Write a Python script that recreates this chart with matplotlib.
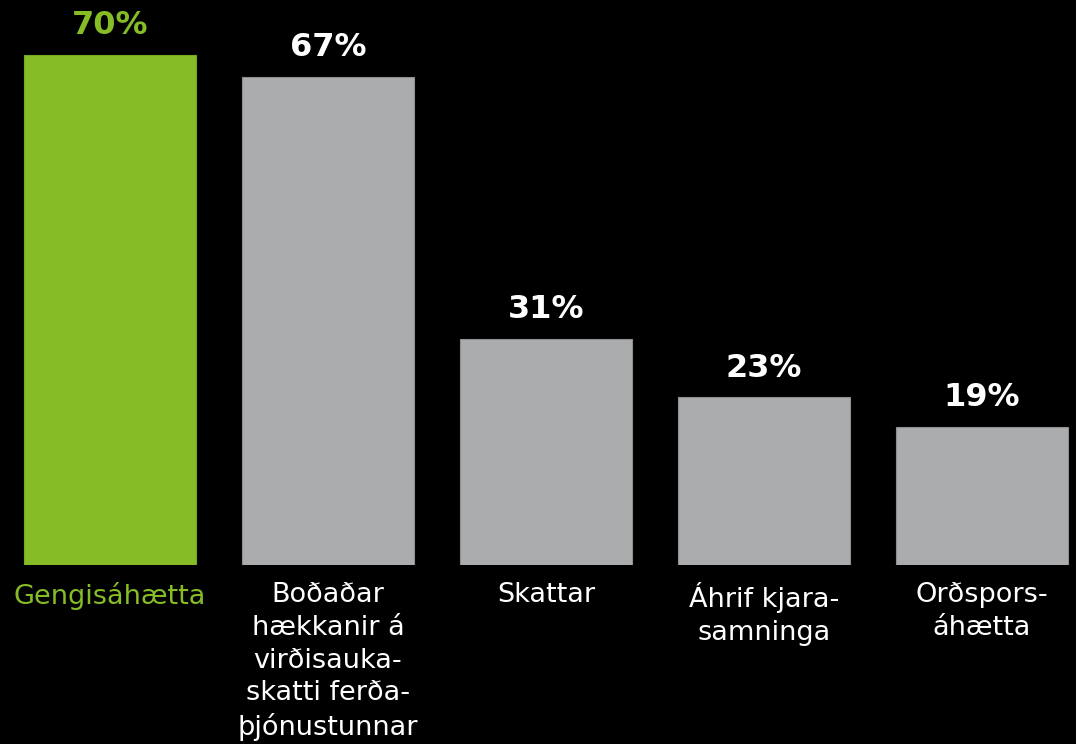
import matplotlib
matplotlib.use("Agg")
import matplotlib.pyplot as plt

categories = ["Gengisáhætta", "Boðaðar\nhækkanir á\nvirðisauka-\nskatti ferða-\nþjónustunnar",
              "Skattar", "Áhrif kjara-\nsamninga", "Orðspors-\náhætta"]
values = [70, 67, 31, 23, 19]
labels = ["70%", "67%", "31%", "23%", "19%"]

GREEN = "#86BC25"
GRAY = "#ABACAE"
colors = [GREEN, GRAY, GRAY, GRAY, GRAY]
label_colors = [GREEN, "white", "white", "white", "white"]

fig = plt.figure(figsize=(10.76, 7.44), dpi=100, facecolor="black")
ax = fig.add_axes([0, 1 - 565 / 744, 1, 565 / 744])
ax.set_facecolor("black")

x = list(range(len(values)))
bars = ax.bar(x, values, width=0.789, color=colors,
              edgecolor=["#7aa821", "#8e8f91", "#8e8f91", "#8e8f91", "#8e8f91"], linewidth=0.8)
ax.set_xlim(-0.505, 4.433)
ax.set_ylim(0, 565 / 7.286)

for b, lab, c in zip(bars, labels, label_colors):
    ax.annotate(lab, (b.get_x() + b.get_width() / 2, b.get_height()),
                xytext=(0, 10), textcoords="offset points", ha="center", va="bottom",
                fontsize=23, fontweight="bold", color=c, family="DejaVu Sans")

ax.set_xticks(x)
ax.set_xticklabels(categories, fontsize=19.5, family="DejaVu Sans", linespacing=1.33)
for t, c in zip(ax.get_xticklabels(), label_colors):
    t.set_color(c)
ax.tick_params(axis="x", length=0, pad=12.5)
ax.set_yticks([])
for s in ax.spines.values():
    s.set_visible(False)

fig.savefig("out.png", dpi=100, facecolor="black")
